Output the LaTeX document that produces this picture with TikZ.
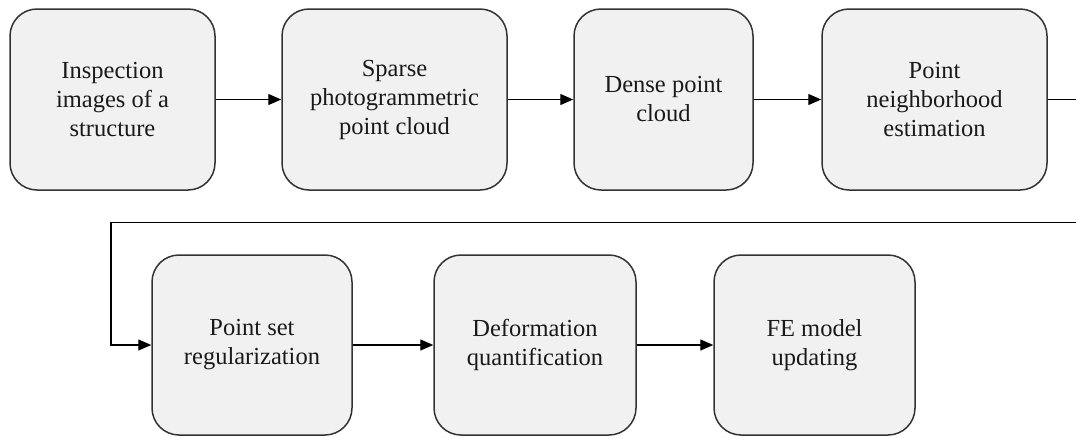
\documentclass[tikz,border=0pt]{standalone}
\usepackage{fontspec}
\setmainfont{Liberation Serif}
\usetikzlibrary{arrows.meta}
\definecolor{boxfill}{HTML}{F1F1F1}
\definecolor{boxline}{HTML}{333333}
\definecolor{txt}{HTML}{1A1A1A}
\tikzset{
  stage/.style={draw=boxline, line width=1.5pt, fill=boxfill, rounded corners=27pt,
    minimum height=181pt, align=center, text=txt, inner sep=0pt,
    font=\fontsize{24.5}{29}\selectfont},
  flow/.style={draw=black, line width=1.3pt, -{Triangle[length=13pt,width=11pt]}}
}
\begin{document}
\begin{tikzpicture}[x=1pt,y=-1pt]
\clip (0,0) rectangle (1076,437);
\node[stage, minimum width=205pt] (b1) at (112.5,99.5) {Inspection\\images of a\\structure};
\node[stage, minimum width=225pt] (b2) at (394.5,99.5) {Sparse\\photogrammetric\\point cloud};
\node[stage, minimum width=179pt] (b3) at (663.5,99.5) {Dense point\\cloud};
\node[stage, minimum width=225pt] (b4) at (934.5,99.5) {Point\\neighborhood\\estimation};
\node[stage, minimum width=200pt, minimum height=180pt] (b5) at (252,345) {Point set\\regularization};
\node[stage, minimum width=202pt, minimum height=180pt] (b6) at (535,345) {Deformation\\quantification};
\node[stage, minimum width=201pt, minimum height=180pt] (b7) at (814.5,345) {FE model\\updating};
\coordinate (r1) at (1090,99.5);
\coordinate (r2) at (111,222.5);
\draw[flow] (b1) -- (b2);
\draw[flow] (b2) -- (b3);
\draw[flow] (b3) -- (b4);
\draw[flow] (b4.east) -- (r1) |- (r2) |- (b5.west);
\draw[flow] (b5) -- (b6);
\draw[flow] (b6) -- (b7);
\end{tikzpicture}
\end{document}
